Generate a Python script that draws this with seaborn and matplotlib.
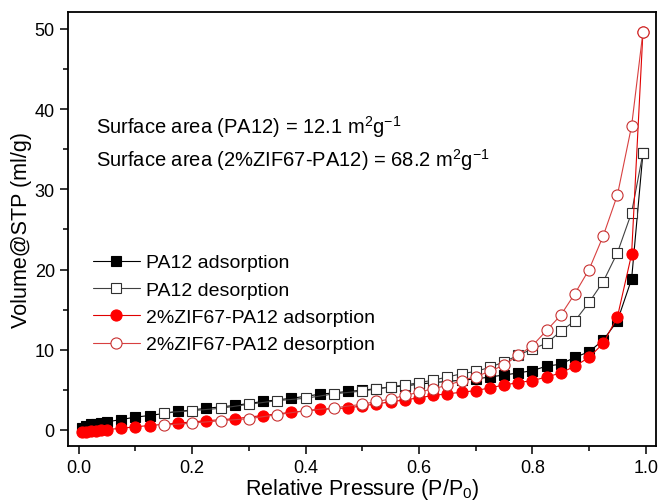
import numpy as np
import seaborn as sns
import matplotlib
matplotlib.use("Agg")
import matplotlib.pyplot as plt
from matplotlib.ticker import MultipleLocator

# PA12 adsorption / desorption
pa12_ads_x = [0.005, 0.013, 0.022, 0.031, 0.040, 0.049, 0.075, 0.100, 0.125, 0.175,
              0.225, 0.275, 0.325, 0.375, 0.425, 0.475, 0.500, 0.525, 0.550, 0.575,
              0.600, 0.625, 0.650, 0.675, 0.700, 0.725, 0.750, 0.775, 0.800, 0.825,
              0.850, 0.875, 0.900, 0.925, 0.950, 0.975, 0.995]
pa12_ads_y = [0.2, 0.5, 0.7, 0.8, 0.9, 1.0, 1.3, 1.6, 1.8, 2.3,
              2.7, 3.05, 3.55, 3.95, 4.45, 4.8, 4.95, 5.15, 5.35, 5.5,
              5.7, 5.9, 6.05, 6.2, 6.35, 6.6, 6.85, 7.1, 7.4, 7.95,
              8.2, 9.05, 9.75, 11.2, 13.6, 18.8, 34.5]
pa12_des_x = [0.15, 0.20, 0.25, 0.30, 0.35, 0.40, 0.45, 0.500, 0.525, 0.550,
              0.575, 0.600, 0.625, 0.650, 0.675, 0.700, 0.725, 0.750, 0.775, 0.800,
              0.825, 0.850, 0.875, 0.900, 0.925, 0.950, 0.975, 0.995]
pa12_des_y = [2.15, 2.4, 2.7, 3.2, 3.65, 3.95, 4.5, 4.85, 5.1, 5.4,
              5.6, 5.9, 6.2, 6.6, 7.0, 7.3, 7.8, 8.5, 9.3, 10.1,
              10.8, 12.3, 13.6, 15.9, 18.5, 22.1, 27.1, 34.5]

# 2% ZIF67-PA12 adsorption / desorption
zif_ads_x = pa12_ads_x
zif_ads_y = [-0.3, -0.2, -0.15, -0.1, 0.0, 0.05, 0.2, 0.4, 0.55, 0.85,
             1.15, 1.4, 1.8, 2.2, 2.55, 2.75, 3.0, 3.25, 3.5, 3.75,
             4.0, 4.3, 4.5, 4.7, 4.9, 5.25, 5.6, 5.9, 6.15, 6.6,
             7.1, 7.95, 9.05, 10.8, 14.1, 21.9, 49.6]
zif_des_x = pa12_des_x
zif_des_y = [0.6, 0.85, 1.15, 1.4, 1.9, 2.4, 2.75, 3.2, 3.55, 3.85,
             4.3, 4.7, 5.15, 5.55, 6.15, 6.65, 7.3, 8.1, 9.3, 10.5,
             12.4, 14.3, 17.0, 20.0, 24.2, 29.3, 37.9, 49.6]

sns.set_style("ticks")
plt.rcParams['font.family'] = ['Liberation Sans', 'DejaVu Sans']
plt.rcParams['mathtext.fontset'] = 'custom'
plt.rcParams['mathtext.rm'] = 'Liberation Sans'
plt.rcParams['mathtext.it'] = 'Liberation Sans:italic'
plt.rcParams['text.color'] = 'black'
plt.rcParams['axes.labelcolor'] = 'black'
plt.rcParams['xtick.color'] = 'black'
plt.rcParams['ytick.color'] = 'black'

fig = plt.figure(figsize=(6.61, 5.02), dpi=100)
ax = fig.add_axes([0.1029, 0.1096, 0.8895, 0.8644])

sns.lineplot(x=pa12_ads_x, y=pa12_ads_y, ax=ax, color='black', linewidth=0.8,
             marker='s', markersize=7, markerfacecolor='black',
             markeredgecolor='black', markeredgewidth=0.8, label='PA12 adsorption')
sns.lineplot(x=pa12_des_x, y=pa12_des_y, ax=ax, color='#404040', linewidth=0.8,
             marker='s', markersize=7, markerfacecolor='white',
             markeredgecolor='#303030', markeredgewidth=0.8, label='PA12 desorption')
sns.lineplot(x=zif_ads_x, y=zif_ads_y, ax=ax, color='#e00000', linewidth=0.8,
             marker='o', markersize=8, markerfacecolor='#ff0000',
             markeredgecolor='#ff0000', markeredgewidth=0.8,
             label='2%ZIF67-PA12 adsorption')
sns.lineplot(x=zif_des_x, y=zif_des_y, ax=ax, color='#d84040', linewidth=0.8,
             marker='o', markersize=8, markerfacecolor='white',
             markeredgecolor='#c83030', markeredgewidth=0.8,
             label='2%ZIF67-PA12 desorption')

ax.set_xlim(-0.019, 1.018)
ax.set_ylim(-2.0, 52.1)
ax.xaxis.set_major_locator(MultipleLocator(0.2))
ax.xaxis.set_minor_locator(MultipleLocator(0.1))
ax.yaxis.set_major_locator(MultipleLocator(10))
ax.yaxis.set_minor_locator(MultipleLocator(5))
ax.set_xticklabels([f'{v:.1f}' for v in ax.get_xticks()])
ax.tick_params(which='major', direction='out', length=6, width=1.1,
               labelsize=13, colors='black', top=False, right=False)
ax.tick_params(which='minor', direction='out', length=3.5, width=1.1,
               top=False, right=False)
for sp in ax.spines.values():
    sp.set_visible(True)
    sp.set_linewidth(1.3)
    sp.set_color('black')

ax.set_xlabel(r'Relative Pressure (P/P$_0$)', fontsize=15.5, labelpad=0)
ax.set_ylabel('Volume@STP (ml/g)', fontsize=15.5, labelpad=2)

ax.text(0.0476, 0.737, r'Surface area (PA12) = 12.1 m$^2$g$^{-1}$',
        transform=ax.transAxes, fontsize=14.5, va='center', ha='left')
ax.text(0.0476, 0.661, r'Surface area (2%ZIF67-PA12) = 68.2 m$^2$g$^{-1}$',
        transform=ax.transAxes, fontsize=14.5, va='center', ha='left')

ax.legend(loc='upper left', bbox_to_anchor=(0.0425, 0.443), frameon=False,
          fontsize=14, handlelength=2.4, handletextpad=0.3,
          borderaxespad=0, borderpad=0, labelspacing=0.5)

plt.savefig('out.png', dpi=100)
